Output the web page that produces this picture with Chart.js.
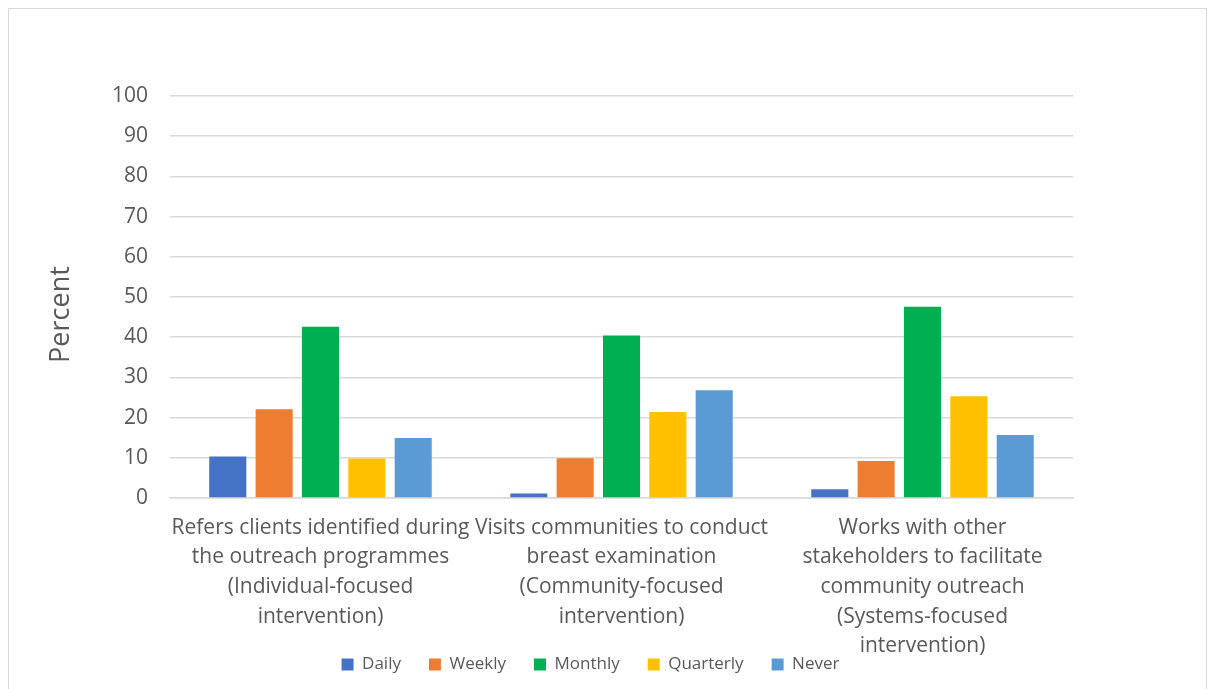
<!DOCTYPE html>
<html>
<head>
<meta charset="utf-8">
<script src="https://cdn.jsdelivr.net/npm/chart.js@4"></script>
<style>
  body { margin: 0; background: #fff; }
  #wrap {
    position: absolute; left: 8px; top: 8px;
    width: 1199px; height: 690px;
    border: 1px solid #d9d9d9; box-sizing: border-box;
  }
  #wrap canvas { display: block; }
</style>
</head>
<body>
<div id="wrap"><canvas id="chart" width="1197" height="680"></canvas></div>
<script>
// categories (multi-line, as wrapped in the original)
const categories = [
  ['Refers clients identified during', 'the outreach programmes', '(Individual-focused', 'intervention)'],
  ['Visits communities to conduct', 'breast examination', '(Community-focused', 'intervention)'],
  ['Works with other', 'stakeholders to facilitate', 'community outreach', '(Systems-focused', 'intervention)']
];

const seriesNames = ['Daily', 'Weekly', 'Monthly', 'Quarterly', 'Never'];
const seriesColors = ['#4472C4', '#ED7D31', '#00B050', '#FFC000', '#5B9BD5'];

// percent values per series, one per category
const daily = [10.3, 1.1, 2.2];
const weekly = [22.1, 9.9, 9.2];
const monthly = [42.6, 40.4, 47.6];
const quarterly = [9.8, 21.4, 25.3];
const never = [14.9, 26.8, 15.7];

const yTicksMax = 100;
const yStep = 10;

const allValues = [daily, weekly, monthly, quarterly, never];
const textColor = '#595959';
const fontFamily = '"Open Sans", sans-serif';

const datasets = seriesNames.map((name, i) => ({
  label: name,
  data: allValues[i],
  backgroundColor: seriesColors[i],
  borderWidth: 0,
  categoryPercentage: 0.77,
  barPercentage: 0.8
}));

new Chart(document.getElementById('chart').getContext('2d'), {
  type: 'bar',
  data: { labels: categories, datasets: datasets },
  options: {
    responsive: false,
    animation: false,
    layout: { padding: { left: 0, right: 34, top: 87, bottom: 6 } },
    scales: {
      y: {
        min: 0,
        max: yTicksMax,
        ticks: { stepSize: yStep, color: textColor, padding: 22, font: { family: fontFamily, size: 21 } },
        grid: { color: '#d9d9d9', lineWidth: 1.5, drawTicks: false },
        border: { display: false },
        title: {
          display: true, text: 'Percent     ', color: textColor,
          font: { family: fontFamily, size: 27 }, padding: { top: 36, bottom: 0 }
        },
        afterFit: (scale) => { scale.width = 161; }
      },
      // empty right-hand spacer so the legend centres like the original
      y2: {
        position: 'right',
        min: 0, max: 1,
        grid: { display: false },
        ticks: { display: false },
        border: { display: false },
        afterFit: (scale) => { scale.width = 99; }
      },
      x: {
        ticks: {
          color: textColor, padding: 15, maxRotation: 0, autoSkip: false,
          font: { family: fontFamily, size: 21, lineHeight: 1.41 }
        },
        grid: { display: false, drawTicks: false },
        border: { color: '#d9d9d9', width: 1.5 },
        afterFit: (scale) => {
          scale.height = 130;
          scale._computeLabelArea = () => undefined; // let the last label line run past the axis box
        }
      }
    },
    plugins: {
      legend: {
        position: 'bottom',
        labels: {
          color: textColor, boxWidth: 12, boxHeight: 12, padding: 28,
          font: { family: fontFamily, size: 17 }
        }
      },
      tooltip: { enabled: false }
    }
  }
});
</script>
</body>
</html>
